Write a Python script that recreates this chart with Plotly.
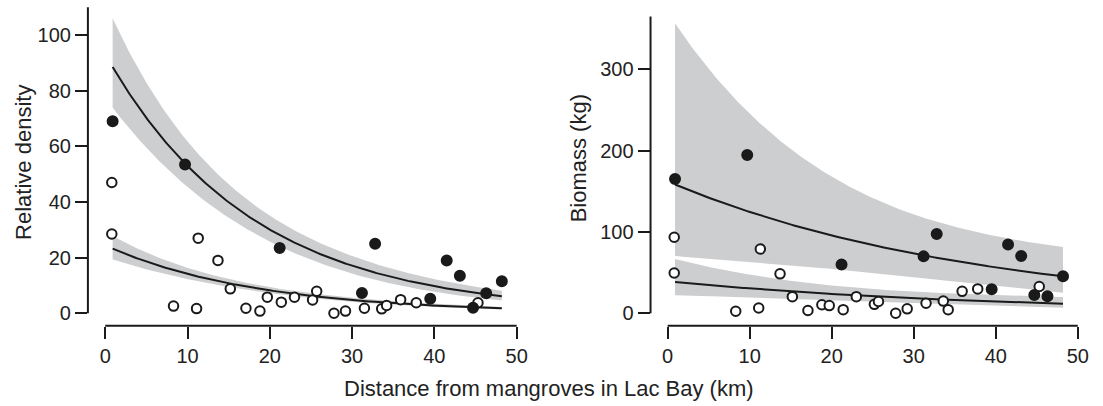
import numpy as np
import plotly.graph_objects as go

# ---------------- data ----------------
dist_filled = [0.9, 9.7, 21.2, 31.2, 32.8, 39.5, 41.5, 43.1, 44.7, 46.3, 48.2]
dens_filled = [69, 53.5, 23.5, 7.3, 25, 5.2, 19, 13.5, 2, 7.2, 11.5]
bio_filled = [165, 194.5, 60, 70, 97.5, 29.5, 84.5, 70.5, 22.5, 21, 45.5]

dist_open = [0.8, 0.8, 8.3, 11.1, 11.3, 13.7, 15.2, 17.1, 18.8, 19.7, 21.4,
             23.0, 25.2, 25.7, 27.8, 29.2, 31.5, 33.6, 34.2, 35.9, 37.8, 45.3]
dens_open = [47, 28.5, 2.6, 1.7, 27, 19, 8.8, 1.8, 0.8, 5.8, 4.0,
             5.8, 4.8, 7.9, 0, 0.8, 1.8, 1.6, 2.8, 4.9, 3.8, 3.8]
bio_open = [93.5, 49.5, 2.5, 6.5, 79, 48.5, 20.5, 3.5, 10.5, 9.5, 4.5,
            20.5, 11, 14.5, 0, 5.5, 12.3, 15, 4.5, 27, 30, 33]

x_ticks = [0, 10, 20, 30, 40, 50]
dens_ticks = [0, 20, 40, 60, 80, 100]
bio_ticks = [0, 100, 200, 300]

# fitted log-linear models: log(y) = a + b*x, CI half width (log scale)
# = sqrt(s0^2 + (sb*(x-xc))^2)
fit_dens_filled = dict(a=4.534, b=-0.0565, s0=0.15, sb=0.0071, xc=15)
fit_dens_open = dict(a=3.194, b=-0.0543, s0=0.13, sb=0.0073, xc=18)
fit_bio_filled = dict(a=5.089, b=-0.0264, s0=0.50, sb=0.0199, xc=33)
fit_bio_open = dict(a=3.673, b=-0.0251, s0=0.35, sb=0.0177, xc=25)

# ---------------- layout geometry (pixels) ----------------
W, H = 1103, 406
PANELS = [
    dict(x0px=105.7, x50px=519.0, y0px=313.3, ytpx=35.0, ytval=100,
         left=88.3, right=525.0, top=7.3, bottom=325.7, ytop=110),
    dict(x0px=670.7, x50px=1082.7, y0px=313.3, ytpx=69.3, ytval=300,
         left=653.5, right=1090.0, top=7.3, bottom=325.7, ytop=365),
]

INK = "#1a1a1a"
BAND = "#cdcecf"
FONT = "Liberation Sans, Arial, Helvetica, sans-serif"
TICKFONT = 20
TITLEFONT = 22


def band(fit, xs):
    xs = np.asarray(xs)
    mu = fit["a"] + fit["b"] * xs
    se = np.sqrt(fit["s0"] ** 2 + (fit["sb"] * (xs - fit["xc"])) ** 2)
    return np.exp(mu), np.exp(mu + se), np.exp(mu - se)


fig = go.Figure()

panels_data = [
    (dens_filled, dens_open, fit_dens_filled, fit_dens_open),
    (bio_filled, bio_open, fit_bio_filled, fit_bio_open),
]

xs = np.linspace(min(dist_filled), max(dist_filled), 200)

for i, (yf, yo, ff, fo) in enumerate(panels_data):
    xa = "x" if i == 0 else "x2"
    ya = "y" if i == 0 else "y2"
    fits = [band(ff, xs), band(fo, xs)]
    # bands
    for fit_, up, lo in fits:
        fig.add_trace(go.Scatter(
            x=np.concatenate([xs, xs[::-1]]),
            y=np.concatenate([up, lo[::-1]]),
            fill="toself", fillcolor=BAND, line=dict(width=0),
            mode="lines", hoverinfo="skip", showlegend=False,
            xaxis=xa, yaxis=ya))
    # fitted curves
    for fit_, up, lo in fits:
        fig.add_trace(go.Scatter(
            x=xs, y=fit_, mode="lines", line=dict(color=INK, width=2),
            showlegend=False, xaxis=xa, yaxis=ya))
    # points
    fig.add_trace(go.Scatter(
        x=dist_open, y=yo, mode="markers",
        marker=dict(symbol="circle", size=9.5, color="white",
                    line=dict(color=INK, width=2)),
        showlegend=False, xaxis=xa, yaxis=ya))
    fig.add_trace(go.Scatter(
        x=dist_filled, y=yf, mode="markers",
        marker=dict(symbol="circle", size=10, color=INK,
                    line=dict(color=INK, width=2)),
        showlegend=False, xaxis=xa, yaxis=ya))

shapes = []
layout_axes = {}
for i, p in enumerate(PANELS):
    xs_ = (p["x50px"] - p["x0px"]) / 50.0
    ys_ = (p["y0px"] - p["ytpx"]) / p["ytval"]
    xr = [(p["left"] - p["x0px"]) / xs_, (p["right"] - p["x0px"]) / xs_]
    yr = [(p["y0px"] - p["bottom"]) / ys_, (p["y0px"] - p["top"]) / ys_]
    xdom = [p["left"] / W, p["right"] / W]
    ydom = [1 - p["bottom"] / H, 1 - p["top"] / H]
    sfx = "" if i == 0 else "2"
    common = dict(showgrid=False, zeroline=False, showline=False,
                  ticks="outside", ticklen=12, tickwidth=2, tickcolor=INK,
                  tickfont=dict(family=FONT, size=TICKFONT, color="#222"),
                  fixedrange=True)
    layout_axes["xaxis" + sfx] = dict(domain=xdom, range=xr,
                                      anchor="y" + sfx, tickvals=x_ticks,
                                      **common)
    layout_axes["yaxis" + sfx] = dict(domain=ydom, range=yr,
                                      anchor="x" + sfx,
                                      tickvals=dens_ticks if i == 0 else bio_ticks,
                                      **common)
    # detached axis lines (R style)
    shapes.append(dict(type="line", xref="paper", yref="paper",
                       x0=p["left"] / W, x1=p["left"] / W,
                       y0=1 - p["y0px"] / H,
                       y1=1 - (p["y0px"] - p["ytop"] * ys_) / H,
                       line=dict(color=INK, width=2)))
    shapes.append(dict(type="line", xref="paper", yref="paper",
                       x0=p["x0px"] / W, x1=p["x50px"] / W,
                       y0=1 - p["bottom"] / H, y1=1 - p["bottom"] / H,
                       line=dict(color=INK, width=2)))

annotations = [
    dict(text="Relative density", textangle=-90, xref="paper", yref="paper",
         x=23 / W, y=1 - 162 / H, xanchor="center", yanchor="middle",
         showarrow=False, font=dict(family=FONT, size=TITLEFONT, color="#222")),
    dict(text="Biomass (kg)", textangle=-90, xref="paper", yref="paper",
         x=581 / W, y=1 - 158 / H, xanchor="center", yanchor="middle",
         showarrow=False, font=dict(family=FONT, size=TITLEFONT, color="#222")),
    dict(text="Distance from mangroves in Lac Bay (km)", xref="paper",
         yref="paper", x=552 / W, y=1 - 388 / H, xanchor="center",
         yanchor="middle", showarrow=False,
         font=dict(family=FONT, size=TITLEFONT, color="#222")),
]

fig.update_layout(
    width=W, height=H, margin=dict(l=0, r=0, t=0, b=0),
    paper_bgcolor="white", plot_bgcolor="white",
    shapes=shapes, annotations=annotations, showlegend=False,
    **layout_axes)

fig.write_html("out.html")
